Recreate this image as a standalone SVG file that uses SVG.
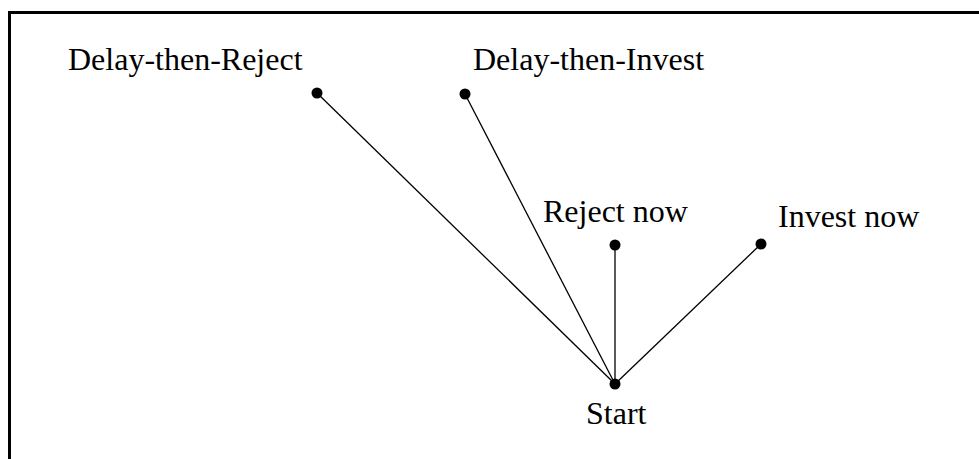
<svg xmlns="http://www.w3.org/2000/svg" width="979" height="459" viewBox="0 0 979 459">
  <style>
    .lbl { font-family: "Liberation Serif", "Times New Roman", serif; font-size: 32px; fill: #000; }
    .edge { stroke: #000; stroke-width: 1.3; fill: none; }
    .dot { fill: #000; }
  </style>
  <rect x="0" y="0" width="979" height="459" fill="#fff"/>
  <!-- outer frame, running off the right and bottom edges -->
  <rect x="9.5" y="12.5" width="990" height="470" fill="none" stroke="#000" stroke-width="3"/>

  <g id="connectors">
    <line class="edge" x1="615" y1="384" x2="317" y2="93"/>
    <line class="edge" x1="615" y1="384" x2="465" y2="94"/>
    <line class="edge" x1="615" y1="384" x2="615" y2="245"/>
    <line class="edge" x1="615" y1="384" x2="761" y2="244"/>
  </g>

  <g id="delay-then-reject">
    <circle class="dot" cx="317" cy="93" r="5.5"/>
    <text class="lbl" x="68" y="70">Delay-then-Reject</text>
  </g>
  <g id="delay-then-invest">
    <circle class="dot" cx="465" cy="94" r="5.5"/>
    <text class="lbl" x="473" y="70">Delay-then-Invest</text>
  </g>
  <g id="reject-now">
    <circle class="dot" cx="615" cy="245" r="5.5"/>
    <text class="lbl" x="543" y="222">Reject now</text>
  </g>
  <g id="invest-now">
    <circle class="dot" cx="761" cy="244" r="5.5"/>
    <text class="lbl" x="778" y="227">Invest now</text>
  </g>
  <g id="start">
    <circle class="dot" cx="615" cy="384" r="5.5"/>
    <text class="lbl" x="586" y="424">Start</text>
  </g>
</svg>
